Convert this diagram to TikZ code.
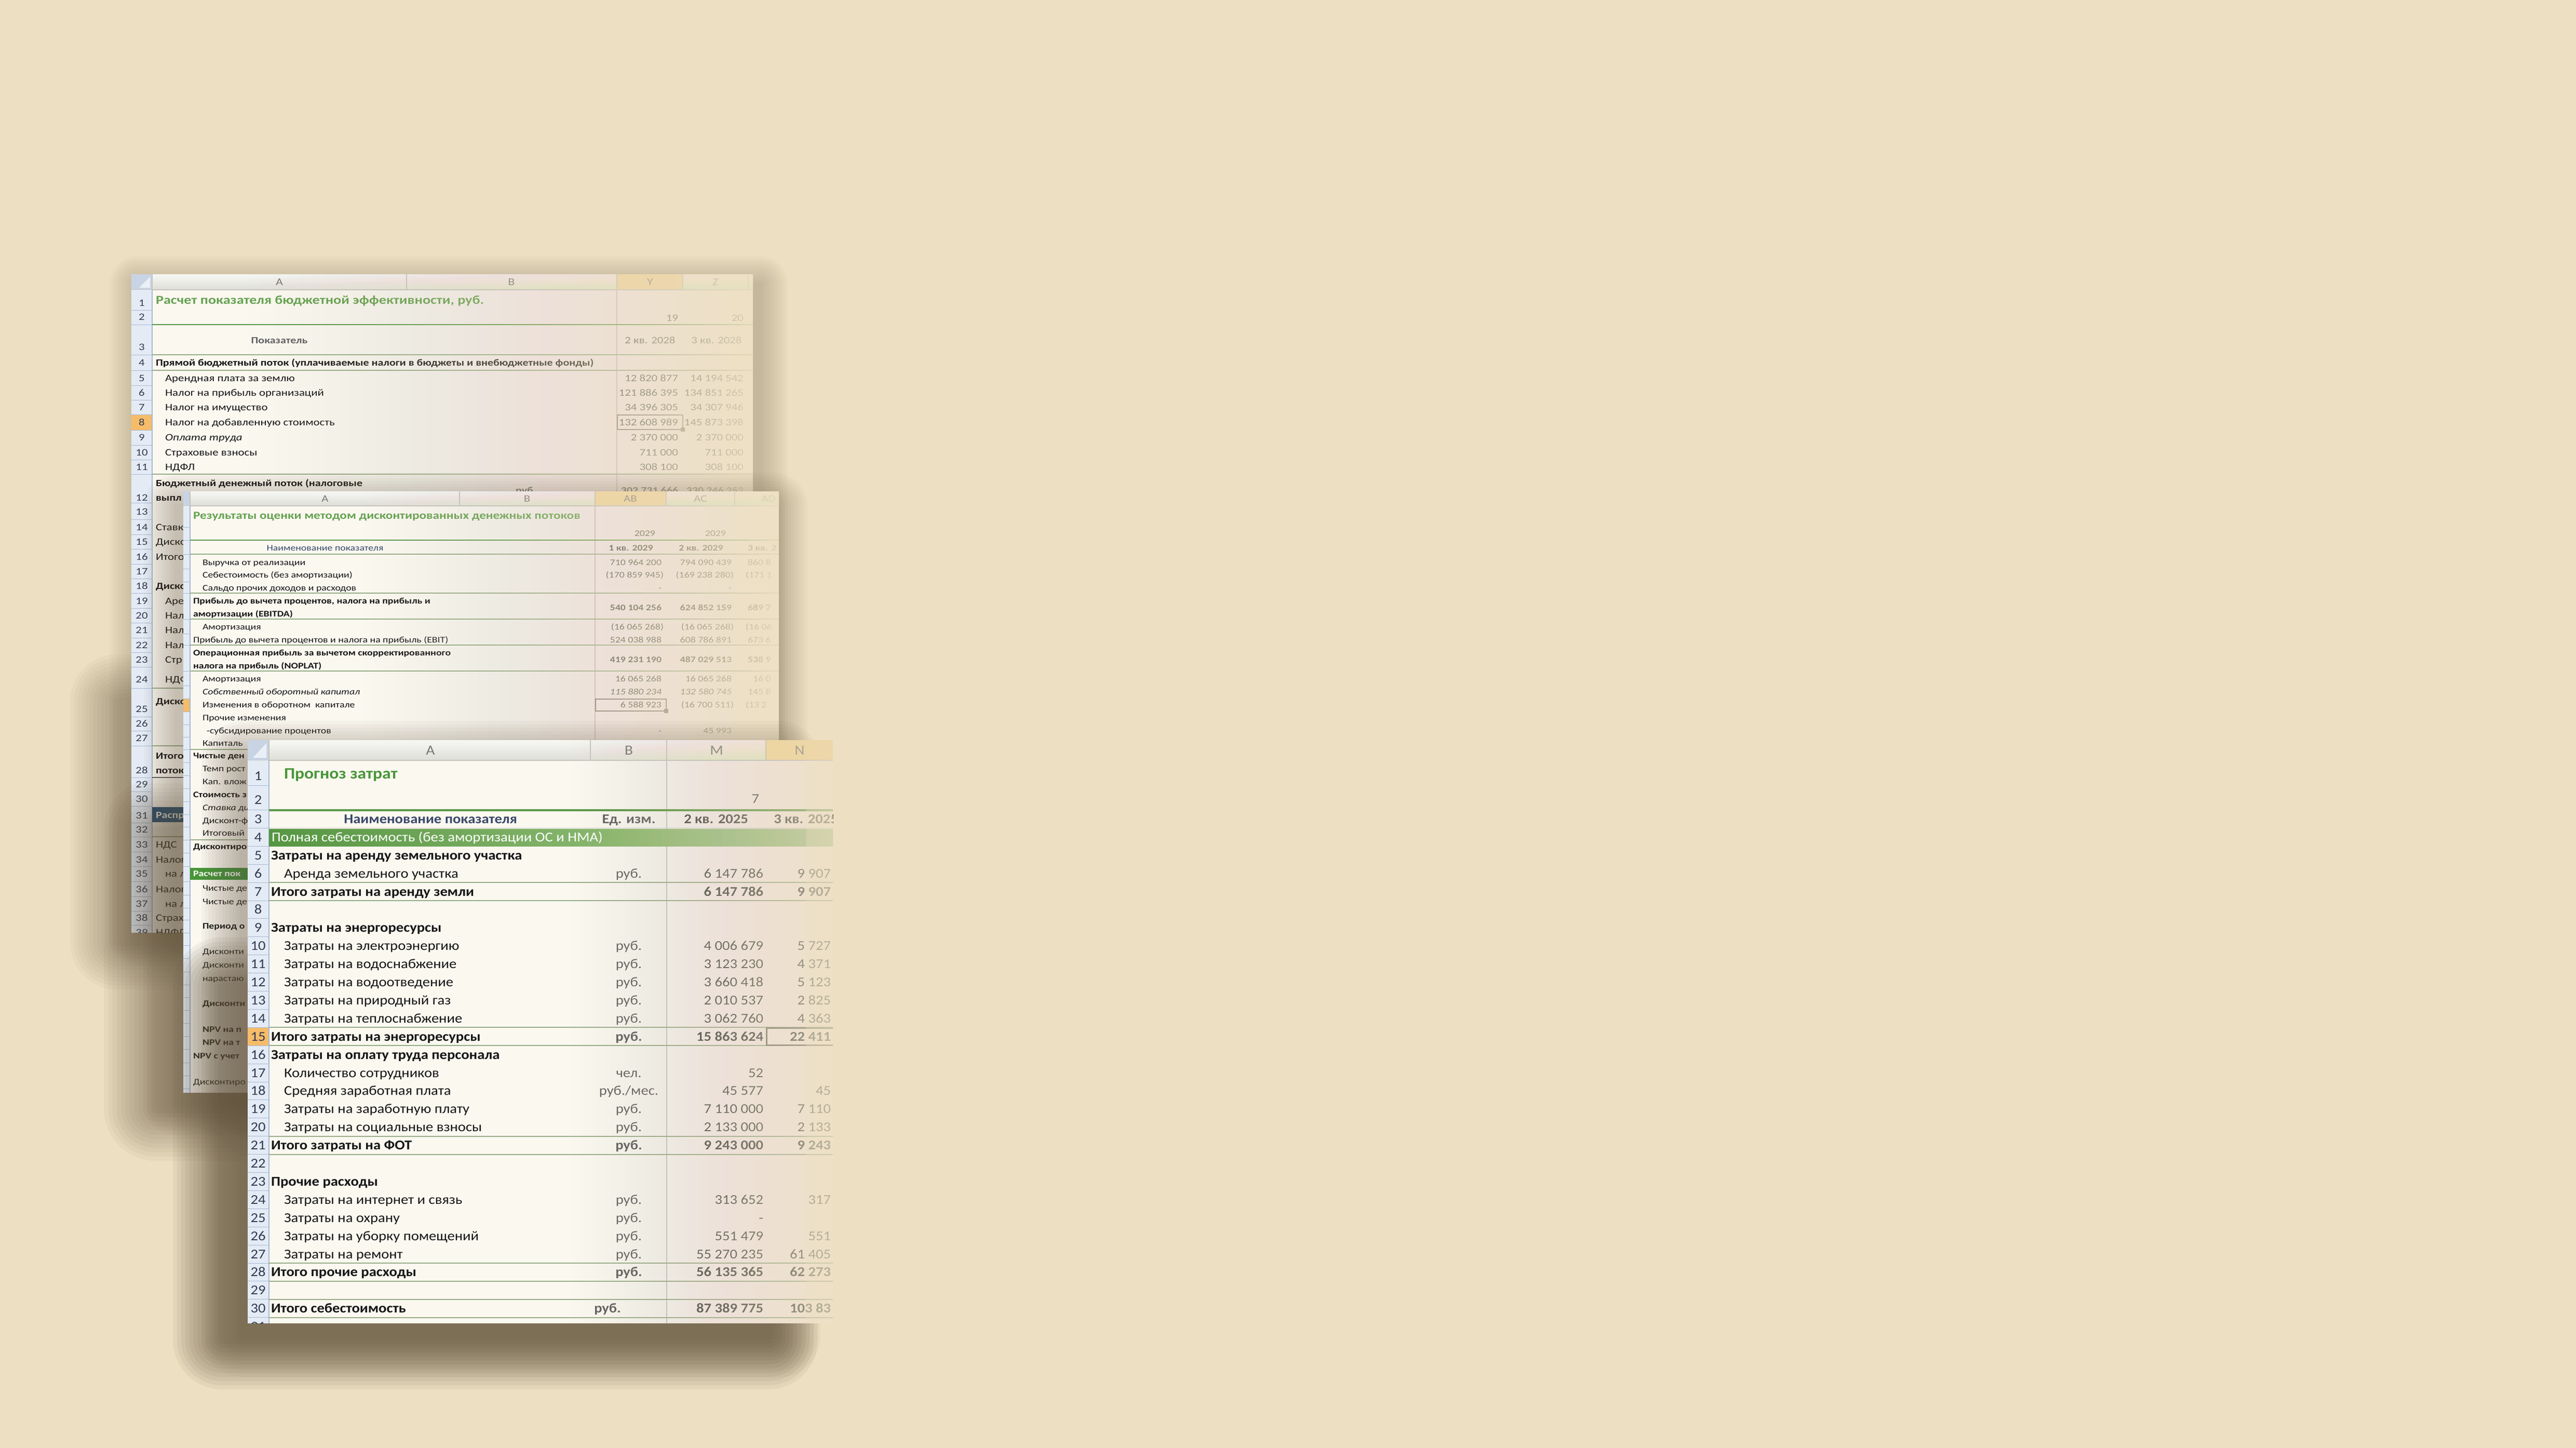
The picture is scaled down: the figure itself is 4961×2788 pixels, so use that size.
\documentclass[tikz,border=0pt]{standalone}
\usepackage{fontspec}
\setmainfont{Carlito}
\newfontfamily\Fa[FakeStretch=1.2]{Carlito}
\newfontfamily\Fb[FakeStretch=1.2]{Carlito}
\newfontfamily\Fc[FakeStretch=1.1]{Carlito}
\definecolor{bgc}{RGB}{237,224,194}
\definecolor{shc}{RGB}{95,80,58}
\definecolor{paper}{RGB}{251,248,240}
\definecolor{hdrA}{RGB}{247,247,244}
\definecolor{hdrB}{RGB}{222,222,216}
\definecolor{cornc}{RGB}{200,212,228}
\definecolor{cornt}{RGB}{235,240,247}
\definecolor{rnum}{RGB}{228,235,245}
\definecolor{rnumline}{RGB}{165,185,210}
\definecolor{rnumtxt}{RGB}{50,60,82}
\definecolor{orhdr}{RGB}{248,214,155}
\definecolor{ornum}{RGB}{246,188,105}
\definecolor{ttl}{RGB}{72,150,56}
\definecolor{ttlb}{RGB}{100,162,80}
\definecolor{gline}{RGB}{90,152,70}
\definecolor{sepl}{RGB}{150,172,135}
\definecolor{gridl}{RGB}{196,196,188}
\definecolor{txt}{RGB}{22,22,22}
\definecolor{numc}{RGB}{70,70,70}
\definecolor{gry}{RGB}{95,95,95}
\definecolor{navy}{RGB}{31,73,125}
\definecolor{hdtx}{RGB}{58,72,105}
\definecolor{barL}{RGB}{86,150,66}
\definecolor{barR}{RGB}{170,204,140}
\definecolor{selb}{RGB}{120,118,110}
\definecolor{hlet}{RGB}{120,120,120}
\tikzset{
  every node/.style={inner sep=0pt,outer sep=0pt},
  L/.style={anchor=base west}, R/.style={anchor=base east}, C/.style={anchor=base},
  ta/.style={font=\Fa\fontsize{19}{21}\selectfont,text=txt,yshift=-6.1pt},
  tab/.style={ta,font=\Fa\bfseries\fontsize{18.3}{20}\selectfont},
  tai/.style={ta,font=\Fa\itshape\fontsize{19}{21}\selectfont},
  tatitle/.style={font=\Fa\bfseries\fontsize{23.5}{25}\selectfont,text=ttlb,yshift=-7.6pt},
  bnum/.style={font=\Fa\fontsize{19}{21}\selectfont,text=rnumtxt,anchor=base,yshift=-6.1pt},
  bhd/.style={font=\Fa\fontsize{20}{22}\selectfont,text=hlet,anchor=base,yshift=-6.4pt},
  mb/.style={font=\Fb\fontsize{16.5}{18}\selectfont,text=txt,yshift=-5.3pt},
  mbb/.style={mb,font=\Fb\bfseries\fontsize{16.5}{18}\selectfont},
  mbi/.style={mb,font=\Fb\itshape\fontsize{16.5}{18}\selectfont},
  mtitle/.style={font=\Fb\bfseries\fontsize{21}{23}\selectfont,text=ttlb,yshift=-6.8pt},
  mhd/.style={font=\Fb\fontsize{19}{21}\selectfont,text=hlet,anchor=base,yshift=-6.1pt},
  fc/.style={font=\Fc\fontsize{26}{28}\selectfont,text=txt,yshift=-8.4pt},
  fcb/.style={fc,font=\Fc\bfseries\fontsize{26}{28}\selectfont},
  fnum/.style={font=\Fc\fontsize{26}{28}\selectfont,text=rnumtxt,anchor=base,yshift=-8.4pt},
  fhd/.style={font=\Fc\fontsize{27}{29}\selectfont,text=hlet,anchor=base,yshift=-8.7pt},
  ftitle/.style={font=\Fc\bfseries\fontsize{30.5}{32}\selectfont,text=ttl,yshift=-9.8pt},
}
\newcommand\softshadow[6]{%
  \foreach \k in {1,...,12}{%
    \pgfmathsetmacro\e{(13-\k)*#5/12}%
    \fill[shc,opacity=#6,rounded corners=\e pt] ({#1-\e},{#2-\e}) rectangle ({#3+\e},{#4+\e});}}
\newcommand\fadeR[7]{%
  \foreach \k in {1,...,#7}{%
    \pgfmathsetmacro\tp{#5*((\k-1)/#7+0.004)^#6}%
    \pgfmathsetmacro\tc{#5*(\k/#7)^#6}%
    \pgfmathsetmacro\al{1-(1-\tc)/(1-\tp)}%
    \pgfmathsetmacro\xk{#1+(#2-#1)*((\k-1)/#7)}%
    \fill[bgc,opacity=\al] (\xk,#3) rectangle (#2,#4);}}
\newcommand\brow[6]{%
  \node[#3,L] (b#1a) at (318,#2) {#4};
  \node[ta,R,text=numc] (b#1y) at (1306,#2) {#5};
  \node[ta,R,text=numc] (b#1z) at (1432,#2) {#6};}
\newcommand\mrow[7]{%
  \node[#2,L] (m#1a) at (#3,#4) {#5};
  \node[#2,R,text=numc] (m#1y) at (1274,#4) {#6};
  \node[#2,R,text=numc] (m#1z) at (1409,#4) {#7};}
\newcommand\frow[7]{%
  \pgfmathsetmacro\ry{1577+(#1-3)*34.9}%
  \node[#2,L] (fa#1) at (#3,\ry) {#4};
  \node[#2,C,text=gry] (fb#1) at (1211,\ry) {#5};
  \node[#2,R,text=numc] (fm#1) at (1470,\ry) {#6};
  \node[#2,R,text=numc] (fn#1) at (1600,\ry) {#7};}
\begin{document}
\begin{tikzpicture}[x=1pt,y=-1pt]
\useasboundingbox (0,0) rectangle (4961,2788);
\fill[bgc] (0,0) rectangle (4961,2788);

% ================= BACK SHEET =================
\softshadow{266}{548}{1462}{1805}{55}{0.025}
\softshadow{225}{1350}{1400}{1815}{90}{0.04}
\begin{scope}
\clip (253,528) rectangle (1450,1796);
\fill[paper] (253,528) rectangle (1450,1796);
\shade[top color=hdrA,bottom color=hdrB] (253,528) rectangle (1450,558);
\fill[orhdr] (1188,528) rectangle (1315,558);
\fill[cornc] (253,528) rectangle (293,558);
\fill[cornt] (289,533) -- (289,554) -- (268,554) -- cycle;
\foreach \xx in {293,783,1188,1315,1441} \draw[gridl,line width=1.2] (\xx,528) -- (\xx,558);
\draw[gridl,line width=1.2] (253,558) -- (1450,558);
\draw[gridl,line width=1.5] (1188,558) -- (1188,1796);
\fill[rnum] (253,558) rectangle (293,1796);
\fill[ornum] (253,798) rectangle (293,828);
\foreach \yy in {597,625,683,713,742,770,798,828,857,885,913,968,1000,1029,1057,1086,1114,1142,1171,1199,1228,1256,1284,1325,1380,1407,1436,1497,1524,1552,1584,1611,1640,1668,1697,1726,1754,1781}
  \draw[rnumline,line width=1] (253,\yy) -- (293,\yy);
\draw[rnumline,line width=1.2] (293,558) -- (293,1796);
\node[bhd] (bhA) at (538,543) {A};
\node[bhd] (bhB) at (985,543) {B};
\node[bhd] (bhY) at (1252,543) {Y};
\node[bhd] (bhZ) at (1378,543) {Z};
\foreach \n/\yy in {1/583,2/610,3/668,4/698,5/728,6/756,7/784,8/813,9/842,10/871,11/899,12/958,13/985,14/1015,15/1043,16/1072,17/1100,18/1128,19/1157,20/1185,21/1213,22/1242,23/1270,24/1308,25/1365,26/1393,27/1421,28/1483,29/1510,30/1538,31/1570,32/1597,33/1626,34/1655,35/1682,36/1712,37/1740,38/1767,39/1795}
  \node[bnum] (bn\n) at (273,\yy) {\n};
\draw[gline,line width=2] (293,625) -- (1450,625);
\draw[sepl,line width=1.5] (293,683) -- (1450,683);
\draw[sepl,line width=1.5] (293,713) -- (1450,713);
\draw[sepl,line width=1.8] (293,913) -- (1450,913);
\draw[sepl,line width=1.8] (293,1325) -- (360,1325);
\draw[sepl,line width=1.8] (293,1436) -- (360,1436);
\draw[gry,line width=1.8] (293,1497) -- (360,1497);
\draw[sepl,line width=1.5] (293,1611) -- (360,1611);
\node[tatitle,L] (bt1) at (300,578) {Расчет показателя бюджетной эффективности, руб.};
\node[ta,R,text=numc] (b2y) at (1306,612) {19};
\node[ta,R,text=numc] (b2z) at (1432,612) {20};
\node[tab,C,text=gry] (b3a) at (538,655) {Показатель};
\node[ta,C,text=numc] (b3y) at (1252,655) {2 кв. 2028};
\node[ta,C,text=numc] (b3z) at (1380,655) {3 кв. 2028};
\node[tab,L] (b4a) at (300,698) {Прямой бюджетный поток (уплачиваемые налоги в бюджеты и внебюджетные фонды)};
\brow{5}{728}{ta}{Арендная плата за землю}{12 820 877}{14 194 542}
\brow{6}{756}{ta}{Налог на прибыль организаций}{121 886 395}{134 851 265}
\brow{7}{784}{ta}{Налог на имущество}{34 396 305}{34 307 946}
\brow{8}{813}{ta}{Налог на добавленную стоимость}{132 608 989}{145 873 398}
\brow{9}{842}{tai}{Оплата труда}{2 370 000}{2 370 000}
\brow{10}{871}{ta}{Страховые взносы}{711 000}{711 000}
\brow{11}{899}{ta}{НДФЛ}{308 100}{308 100}
\draw[selb,line width=2.5] (1189,799) rectangle (1315,827);
\fill[selb] (1311,823) rectangle (1319,831);
\node[tab,L] (b12a) at (300,930) {Бюджетный денежный поток (налоговые};
\node[tab,L] (b12b) at (300,958) {выпл};
\node[tab,C,text=gry] (b12c) at (1010,944) {руб};
\node[tab,R,text=numc] (b12y) at (1306,944) {302 731 666};
\node[tab,R,text=numc] (b12z) at (1432,944) {330 246 252};
\node[ta,L] (b14) at (300,1015) {Ставк};
\node[ta,L] (b15) at (300,1043) {Диско};
\node[ta,L] (b16) at (300,1072) {Итого};
\node[tab,L] (b18) at (300,1128) {Диско};
\node[ta,L] (b19) at (318,1157) {Аре};
\node[ta,L] (b20) at (318,1185) {Нал};
\node[ta,L] (b21) at (318,1213) {Нал};
\node[ta,L] (b22) at (318,1242) {Нал};
\node[ta,L] (b23) at (318,1270) {Стр};
\node[ta,L] (b24) at (318,1308) {НДФ};
\node[tab,L] (b25) at (300,1350) {Диско};
\node[tab,L] (b28a) at (300,1455) {Итого};
\node[tab,L] (b28b) at (300,1483) {поток};
\fill[navy] (293,1554) rectangle (360,1583);
\node[tab,L,text=white] (b31) at (300,1569) {Распр};
\node[ta,L] (b33) at (300,1626) {НДС};
\node[ta,L] (b34) at (300,1655) {Налог};
\node[ta,L] (b35) at (318,1682) {на л};
\node[ta,L] (b36) at (300,1712) {Налог};
\node[ta,L] (b37) at (318,1740) {на л};
\node[ta,L] (b38) at (300,1767) {Страх};
\node[ta,L] (b39) at (300,1795) {НДФЛ};
\fadeR{480}{1450}{528}{1796}{0.93}{1.4}{40}
\end{scope}

% ================= MIDDLE SHEET =================
\softshadow{342}{975}{1490}{2122}{65}{0.03}
\softshadow{300}{1600}{1450}{2135}{100}{0.05}
\begin{scope}
\clip (353,946) rectangle (1500,2104);
\fill[paper] (353,946) rectangle (1500,2104);
\shade[top color=hdrA,bottom color=hdrB] (353,946) rectangle (1500,974);
\fill[orhdr] (1146,946) rectangle (1283,974);
\fill[cornc] (353,946) rectangle (366,974);
\foreach \xx in {366,885,1146,1283,1415} \draw[gridl,line width=1.2] (\xx,946) -- (\xx,974);
\draw[gridl,line width=1.2] (353,974) -- (1500,974);
\draw[gridl,line width=1.5] (1146,974) -- (1146,2104);
\fill[rnum] (353,974) rectangle (366,2104);
\fill[ornum] (353,1345) rectangle (366,1370);
\foreach \yy in {1015,1040,1067,1095,1120,1142,1192,1220,1242,1292,1320,1345,1370,1395,1419,1443,1468,1493,1518,1543,1568,1592,1617,1642,1668,1697,1723,1748,1771,1796,1820,1845,1871,1896,1920,1945,1970,1995,2020,2046,2071,2096}
  \draw[rnumline,line width=1] (353,\yy) -- (366,\yy);
\draw[rnumline,line width=1.2] (366,974) -- (366,2104);
\node[mhd] (mhA) at (626,960) {A};
\node[mhd] (mhB) at (1015,960) {B};
\node[mhd] (mhAB) at (1214,960) {AB};
\node[mhd] (mhAC) at (1349,960) {AC};
\node[mhd] (mhAD) at (1480,960) {AD};
\draw[gline,line width=2] (366,1040) -- (1500,1040);
\foreach \yy in {1067,1142,1192,1242,1292,1443,1617}
  \draw[sepl,line width=1.5] (366,\yy) -- (1500,\yy);
\node[mtitle,L] (mt) at (372,993) {Результаты оценки методом дисконтированных денежных потоков};
\node[mb,R,text=numc] (m2y) at (1262,1027) {2029};
\node[mb,R,text=numc] (m2z) at (1398,1027) {2029};
\node[mb,C,text=hdtx] (m3a) at (626,1055) {Наименование показателя};
\node[mbb,C,text=numc] (m3y) at (1215,1055) {1 кв. 2029};
\node[mbb,C,text=numc] (m3z) at (1350,1055) {2 кв. 2029};
\node[mbb,L,text=numc] (m3w) at (1440,1055) {3 кв. 2};
\mrow{4}{mb}{390}{1083}{Выручка от реализации}{710 964 200}{794 090 439}
\node[mb,L,text=numc] (m4w) at (1440,1083) {860 8};
\node[mb,L] (m5a) at (390,1107) {Себестоимость (без амортизации)};
\node[mb,R,text=numc] (m5y) at (1278,1107) {(170 859 945)};
\node[mb,R,text=numc] (m5z) at (1413,1107) {(169 238 280)};
\node[mb,L,text=numc] (m5w) at (1436,1107) {(171 1};
\mrow{6}{mb}{390}{1132}{Сальдо прочих доходов и расходов}{-}{-}
\node[mbb,L] (m7a) at (372,1157) {Прибыль до вычета процентов, налога на прибыль и};
\node[mbb,L] (m7b) at (372,1182) {амортизации (EBITDA)};
\node[mbb,R,text=numc] (m7y) at (1274,1170) {540 104 256};
\node[mbb,R,text=numc] (m7z) at (1409,1170) {624 852 159};
\node[mbb,L,text=numc] (m7w) at (1440,1170) {689 7};
\node[mb,L] (m8a) at (390,1207) {Амортизация};
\node[mb,R,text=numc] (m8y) at (1278,1207) {(16 065 268)};
\node[mb,R,text=numc] (m8z) at (1413,1207) {(16 065 268)};
\node[mb,L,text=numc] (m8w) at (1436,1207) {(16 06};
\mrow{9}{mb}{372}{1232}{Прибыль до вычета процентов и налога на прибыль (EBIT)}{524 038 988}{608 786 891}
\node[mb,L,text=numc] (m9w) at (1440,1232) {673 6};
\node[mbb,L] (m10a) at (372,1257) {Операционная прибыль за вычетом скорректированного};
\node[mbb,L] (m10b) at (372,1282) {налога на прибыль (NOPLAT)};
\node[mbb,R,text=numc] (m10y) at (1274,1270) {419 231 190};
\node[mbb,R,text=numc] (m10z) at (1409,1270) {487 029 513};
\node[mbb,L,text=numc] (m10w) at (1440,1270) {538 9};
\mrow{11}{mb}{390}{1307}{Амортизация}{16 065 268}{16 065 268}
\node[mb,L,text=numc] (m11w) at (1450,1307) {16 0};
\mrow{12}{mbi}{390}{1332}{Собственный оборотный капитал}{115 880 234}{132 580 745}
\node[mb,L,text=numc] (m12w) at (1440,1332) {145 8};
\node[mb,L] (m13a) at (390,1357) {Изменения в оборотном \ капитале};
\node[mb,R,text=numc] (m13y) at (1274,1357) {6 588 923};
\node[mb,R,text=numc] (m13z) at (1413,1357) {(16 700 511)};
\node[mb,L,text=numc] (m13w) at (1436,1357) {(13 2};
\draw[selb,line width=2.5] (1147,1346) rectangle (1283,1369);
\fill[selb] (1279,1365) rectangle (1287,1373);
\node[mb,L] (m14a) at (390,1382) {Прочие изменения};
\mrow{15}{mb}{398}{1407}{-субсидирование процентов}{-}{45 993}
\node[mb,L] (m16a) at (390,1431) {Капиталь};
\node[mbb,L] (m17a) at (372,1455) {Чистые ден};
\node[mb,L] (m18a) at (390,1480) {Темп рост};
\node[mb,L] (m19a) at (390,1505) {Кап. влож};
\node[mbb,L] (m20a) at (372,1530) {Стоимость з};
\node[mbi,L] (m21a) at (390,1555) {Ставка ди};
\node[mb,L] (m22a) at (390,1580) {Дисконт-ф};
\node[mb,L] (m23a) at (390,1604) {Итоговый};
\node[mbb,L] (m24a) at (372,1630) {Дисконтиро};
\fill[ttl] (366,1671) rectangle (480,1694);
\node[mbb,L,text=white] (m26a) at (372,1682) {Расчет пок};
\node[mb,L] (m27a) at (390,1710) {Чистые де};
\node[mb,L] (m28a) at (390,1736) {Чистые де};
\node[mbb,L] (m30a) at (390,1783) {Период о};
\node[mb,L] (m32a) at (390,1832) {Дисконти};
\node[mb,L] (m33a) at (390,1858) {Дисконти};
\node[mb,L] (m34a) at (390,1884) {нарастаю};
\node[mbb,L] (m36a) at (390,1932) {Дисконти};
\node[mbb,L] (m38a) at (390,1982) {NPV на п};
\node[mbb,L] (m39a) at (390,2007) {NPV на т};
\node[mbb,L] (m40a) at (372,2033) {NPV с учет};
\node[mb,L] (m42a) at (372,2083) {Дисконтиро};
\fadeR{700}{1500}{946}{2104}{0.95}{1.25}{40}
\end{scope}

% ================= FRONT SHEET =================
\softshadow{468}{1468}{1500}{2572}{80}{0.04}
\softshadow{428}{1900}{1480}{2580}{95}{0.07}
\begin{scope}
\clip (477,1425) rectangle (1604,2548);
\fill[paper] (477,1425) rectangle (1604,2548);
\shade[top color=hdrA,bottom color=hdrB] (477,1425) rectangle (1604,1464);
\fill[orhdr] (1475,1425) rectangle (1604,1464);
\fill[cornc] (477,1425) rectangle (518,1464);
\fill[cornt] (513,1431) -- (513,1459) -- (487,1459) -- cycle;
\foreach \xx in {518,1137,1284,1475} \draw[gridl,line width=1.2] (\xx,1425) -- (\xx,1464);
\draw[gridl,line width=1.2] (477,1464) -- (1604,1464);
\draw[gridl,line width=1.5] (1284,1464) -- (1284,2548);
\fill[rnum] (477,1464) rectangle (518,2548);
\fill[ornum] (477,1978.35) rectangle (518,2013.25);
\draw[rnumline,line width=1] (477,1512) -- (518,1512);
\draw[rnumline,line width=1] (477,1559.5) -- (518,1559.5);
\foreach \k in {0,...,28} {
  \pgfmathsetmacro\yy{1594.45+\k*34.9}
  \draw[rnumline,line width=1] (477,\yy) -- (518,\yy);
}
\draw[rnumline,line width=1.2] (518,1464) -- (518,2548);
\node[fhd] (fhA) at (829,1445) {A};
\node[fhd] (fhB) at (1211,1445) {B};
\node[fhd] (fhM) at (1380,1445) {M};
\node[fhd] (fhN) at (1540,1445) {N};
\node[fnum] (fr1) at (497,1494) {1};
\node[fnum] (fr2) at (497,1540) {2};
\foreach \r in {3,...,31} {
  \pgfmathsetmacro\ry{1577+(\r-3)*34.9}
  \node[fnum] (fr\r) at (497,\ry) {\r};
}
\draw[gline,line width=4] (518,1560) -- (1604,1560);
\draw[gridl,line width=1.5] (518,1594.45) -- (1604,1594.45);
\shade[left color=barL,right color=barR] (518,1596) rectangle (1604,1629);
\foreach \yy in {1699.15,1734.05,1978.35,2013.25,2187.75,2222.65,2432.05,2466.95,2501.85,2536.75}
  \draw[sepl,line width=2] (518,\yy) -- (1604,\yy);
\node[ftitle,L] (ft) at (547,1490) {Прогноз затрат};
\node[fc,R,text=numc] (f2m) at (1462,1538) {7};
\node[fcb,C,text=hdtx] (f3a) at (829,1577) {Наименование показателя};
\node[fcb,C,text=gry] (f3b) at (1211,1577) {Ед. изм.};
\node[fcb,C,text=numc] (f3m) at (1379,1577) {2 кв. 2025};
\node[fcb,C,text=numc] (f3n) at (1552,1577) {3 кв. 2025};
\node[fc,L,text=white] (f4a) at (523,1612) {Полная себестоимость (без амортизации ОС и НМА)};
\frow{5}{fcb}{522}{Затраты на аренду земельного участка}{}{}{}
\frow{6}{fc}{547}{Аренда земельного участка}{руб.}{6 147 786}{9 907}
\frow{7}{fcb}{522}{Итого затраты на аренду земли}{}{6 147 786}{9 907}
\frow{9}{fcb}{522}{Затраты на энергоресурсы}{}{}{}
\frow{10}{fc}{547}{Затраты на электроэнергию}{руб.}{4 006 679}{5 727}
\frow{11}{fc}{547}{Затраты на водоснабжение}{руб.}{3 123 230}{4 371}
\frow{12}{fc}{547}{Затраты на водоотведение}{руб.}{3 660 418}{5 123}
\frow{13}{fc}{547}{Затраты на природный газ}{руб.}{2 010 537}{2 825}
\frow{14}{fc}{547}{Затраты на теплоснабжение}{руб.}{3 062 760}{4 363}
\frow{15}{fcb}{522}{Итого затраты на энергоресурсы}{руб.}{15 863 624}{22 411}
\frow{16}{fcb}{522}{Затраты на оплату труда персонала}{}{}{}
\frow{17}{fc}{547}{Количество сотрудников}{чел.}{52}{}
\frow{18}{fc}{547}{Средняя заработная плата}{руб./мес.}{45 577}{45}
\frow{19}{fc}{547}{Затраты на заработную плату}{руб.}{7 110 000}{7 110}
\frow{20}{fc}{547}{Затраты на социальные взносы}{руб.}{2 133 000}{2 133}
\frow{21}{fcb}{522}{Итого затраты на ФОТ}{руб.}{9 243 000}{9 243}
\frow{23}{fcb}{522}{Прочие расходы}{}{}{}
\frow{24}{fc}{547}{Затраты на интернет и связь}{руб.}{313 652}{317}
\frow{25}{fc}{547}{Затраты на охрану}{руб.}{-}{}
\frow{26}{fc}{547}{Затраты на уборку помещений}{руб.}{551 479}{551}
\frow{27}{fc}{547}{Затраты на ремонт}{руб.}{55 270 235}{61 405}
\frow{28}{fcb}{522}{Итого прочие расходы}{руб.}{56 135 365}{62 273}
\node[fcb,L] (fa30) at (522,2519.3) {Итого себестоимость};
\node[fcb,C,text=gry] (fb30) at (1170,2519.3) {руб.};
\node[fcb,R,text=numc] (fm30) at (1470,2519.3) {87 389 775};
\node[fcb,R,text=numc] (fn30) at (1600,2519.3) {103 83};
\draw[selb,line width=3] (1476,1979.5) rectangle (1612,2012);
\fadeR{1100}{1604}{1425}{2548}{0.7}{1.2}{40}
\fill[bgc,opacity=0.3] (1552,1464) rectangle (1604,2548);
\end{scope}
\end{tikzpicture}
\end{document}
